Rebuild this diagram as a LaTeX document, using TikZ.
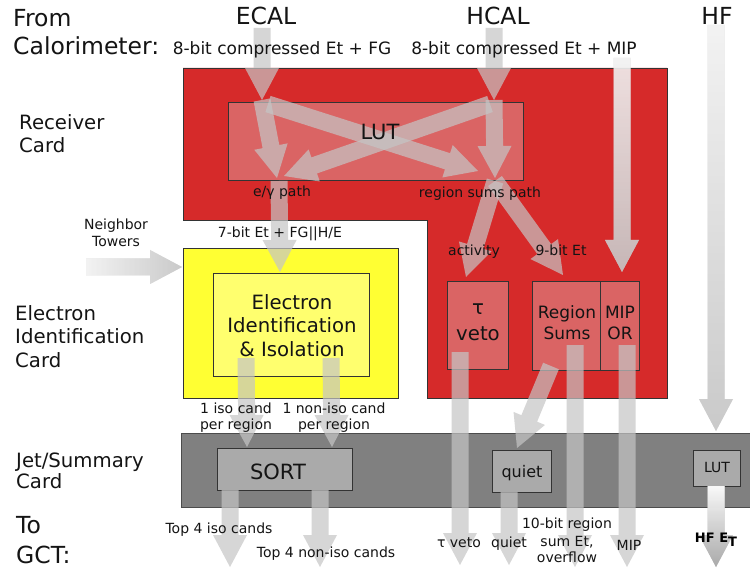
\documentclass[tikz,border=0pt]{standalone}
\usepackage{fontspec}
\setmainfont{DejaVu Sans}
\usetikzlibrary{calc}
\definecolor{cardred}{RGB}{214,42,42}
\definecolor{lutred}{RGB}{218,100,100}
\definecolor{eidyellow}{RGB}{255,255,51}
\definecolor{eidinner}{RGB}{255,255,110}
\definecolor{barGray}{RGB}{128,128,128}
\definecolor{boxGray}{RGB}{170,170,170}
\definecolor{arrowgray}{RGB}{197,197,197}
\definecolor{inkc}{RGB}{20,20,20}
\def\faW{8.5pt}\def\faH{17pt}\def\faL{32pt}
\newcommand\FatArrow[3][]{%
  \coordinate (fa-h) at ($(#3)!\faL!(#2)$);
  \path[fat,#1] ($(#2)!\faW!-90:(#3)$) -- ($(fa-h)!\faW!-90:(#3)$) -- ($(fa-h)!\faH!-90:(#3)$) -- (#3) -- ($(fa-h)!\faH!90:(#3)$) -- ($(fa-h)!\faW!90:(#3)$) -- ($(#2)!\faW!90:(#3)$) -- cycle;}
\newcommand\myBig{\fontsize{23.5}{28}\selectfont}
\newcommand\myLab{\fontsize{19.7}{23}\selectfont}
\newcommand\myMid{\fontsize{17}{20}\selectfont}
\newcommand\mySmall{\fontsize{14}{17}\selectfont}
\begin{document}
\begin{tikzpicture}[x=1pt,y=-1pt,
  fat/.style={fill=arrowgray, fill opacity=0.7},
  fadetop/.style={top color=white, bottom color=arrowgray, fill opacity=0.7},
  fadeleft/.style={left color=white, right color=arrowgray, fill opacity=0.7},
  card/.style={draw=black!80, line width=0.8pt},
  txt/.style={anchor=base, inner sep=0pt, text=inkc},
  txtw/.style={anchor=base west, inner sep=0pt, text=inkc}]
\useasboundingbox (0,0) rectangle (750,572);
\fill[white] (0,0) rectangle (750,572);

% cards and boxes
\draw[card, fill=cardred] (183,68) -- (667,68) -- (667,398) -- (427,398) -- (427,220) -- (183,220) -- cycle;
\draw[card, fill=lutred] (228,102) rectangle (523,180);
\draw[card, fill=eidyellow] (183,248) rectangle (398,398);
\draw[card, fill=eidinner] (213,273) rectangle (369,376);
\draw[card, fill=lutred] (447,281) rectangle (508,369);
\draw[card, fill=lutred] (532,281) rectangle (639,370);
\draw[card] (600,281) -- (600,370);
\draw[draw=black!70, line width=0.8pt, fill=barGray] (181,433) rectangle (753,507);
\draw[card, fill=boxGray] (217,448) rectangle (352,490);
\draw[card, fill=boxGray] (492,450) rectangle (551,492);
\draw[card, fill=boxGray] (693,450) rectangle (740,486);

% connector end points
\coordinate (ecalTop) at (262,28);
\coordinate (ecalIn) at (262,100);
\coordinate (egOut) at (277,178);
\coordinate (hcalTop) at (494,28);
\coordinate (hcalIn) at (494,100);
\coordinate (rsOut) at (495,178);
\coordinate (crossA) at (268,104);
\coordinate (crossAt) at (478,171);
\coordinate (crossB) at (490,104);
\coordinate (crossBt) at (284,176);
\coordinate (egDown) at (279,181);
\coordinate (eidTop) at (280,272);
\coordinate (rsDown) at (495,181);
\coordinate (tauTop) at (466,277);
\coordinate (sumsTop) at (563,275);
\coordinate (mipTop) at (622,58);
\coordinate (mipIn) at (622,272);
\coordinate (hfTop) at (716,25);
\coordinate (hfIn) at (716,431);
\coordinate (nbStart) at (86,267);
\coordinate (nbEnd) at (182,267);
\coordinate (isoA) at (246,358);
\coordinate (isoB) at (247,447);
\coordinate (nisoA) at (331,358);
\coordinate (nisoB) at (332,447);
\coordinate (sortIso) at (230,490);
\coordinate (gctIso) at (230,567);
\coordinate (sortNiso) at (320,490);
\coordinate (gctNiso) at (320,567);
\coordinate (tauA) at (460,352);
\coordinate (tauB) at (460,565);
\coordinate (sumsA) at (551,366);
\coordinate (quietIn) at (517,448);
\coordinate (quietA) at (509,492);
\coordinate (quietB) at (509,565);
\coordinate (rsA) at (575,345);
\coordinate (rsB) at (575,567);
\coordinate (mipA) at (627,345);
\coordinate (mipB) at (627,567);
\coordinate (hfLutA) at (716,486);
\coordinate (hfLutB) at (716,567);

% arrows
\FatArrow{ecalTop}{ecalIn}
\FatArrow{ecalIn}{egOut}
\FatArrow{hcalTop}{hcalIn}
\FatArrow{hcalIn}{rsOut}
\FatArrow{crossA}{crossAt}
\FatArrow{crossB}{crossBt}
\FatArrow{egDown}{eidTop}
\FatArrow{rsDown}{tauTop}
\FatArrow{rsDown}{sumsTop}
\FatArrow[top color=white, middle color=arrowgray, bottom color=arrowgray, fill opacity=0.7]{mipTop}{mipIn}
\FatArrow[fadetop]{hfTop}{hfIn}
\FatArrow[fadeleft]{nbStart}{nbEnd}
\FatArrow{isoA}{isoB}
\FatArrow{nisoA}{nisoB}
\FatArrow{sortIso}{gctIso}
\FatArrow{sortNiso}{gctNiso}
\FatArrow{tauA}{tauB}
\FatArrow{sumsA}{quietIn}
\FatArrow{quietA}{quietB}
\FatArrow{rsA}{rsB}
\FatArrow{mipA}{mipB}
\FatArrow[top color=white, bottom color=gray!70, fill opacity=0.9]{hfLutA}{hfLutB}

% texts
\node[txtw, font=\myBig] (tFrom) at (13,27) {From};
\node[txtw, font=\myBig] (tCalo) at (13,55) {Calorimeter:};
\node[txt, font=\myBig] (tEcal) at (266,25) {ECAL};
\node[txt, font=\myBig] (tHcal) at (498,25) {HCAL};
\node[txt, font=\myBig] (tHf) at (717,25) {HF};
\node[txt, font=\myMid] (tEbits) at (282,55) {8-bit compressed Et + FG};
\node[txt, font=\myMid] (tHbits) at (524,55) {8-bit compressed Et + MIP};
\node[txtw, font=\myLab] (tRec1) at (19,130) {Receiver};
\node[txtw, font=\myLab] (tRec2) at (19,153) {Card};
\node[txt, font=\fontsize{21}{24}\selectfont] (tLut) at (380,140) {LUT};
\node[txt, font=\mySmall] (tEg) at (282,197) {e/γ path};
\node[txt, font=\mySmall] (tRs) at (480,198) {region sums path};
\node[txt, font=\mySmall] (tNb1) at (116,230) {Neighbor};
\node[txt, font=\mySmall] (tNb2) at (116,247) {Towers};
\node[txt, font=\mySmall] (tSeven) at (280,238) {7-bit Et + FG||H/E};
\node[txt, font=\mySmall] (tAct) at (474,256) {activity};
\node[txt, font=\mySmall] (tNine) at (561,256) {9-bit Et};
\node[txtw, font=\myLab] (tEid1) at (15,320) {Electron};
\node[txtw, font=\myLab] (tEid2) at (15,343) {Identification};
\node[txtw, font=\myLab] (tEid3) at (15,367) {Card};
\node[txt, font=\myLab] (tIn1) at (292,309) {Electron};
\node[txt, font=\myLab] (tIn2) at (292,332) {Identification};
\node[txt, font=\myLab] (tIn3) at (292,356) {\& Isolation};
\node[txt, font=\myLab] (tTau1) at (478,315) {τ};
\node[txt, font=\myLab] (tTau2) at (478,340) {veto};
\node[txt, font=\myMid] (tReg1) at (567,319) {Region};
\node[txt, font=\myMid] (tReg2) at (567,339) {Sums};
\node[txt, font=\myMid] (tMip1) at (620,319) {MIP};
\node[txt, font=\myMid] (tMip2) at (620,339) {OR};
\node[txt, font=\mySmall] (tIso1) at (236,413) {1 iso cand};
\node[txt, font=\mySmall] (tIso2) at (236,429) {per region};
\node[txt, font=\mySmall] (tNiso1) at (334,413) {1 non-iso cand};
\node[txt, font=\mySmall] (tNiso2) at (334,429) {per region};
\node[txtw, font=\myLab] (tJet1) at (16,467) {Jet/Summary};
\node[txtw, font=\myLab] (tJet2) at (16,488) {Card};
\node[txt, font=\fontsize{21}{24}\selectfont] (tSort) at (278,479) {SORT};
\node[txt, font=\fontsize{16}{19}\selectfont] (tQuiet) at (522,477) {quiet};
\node[txt, font=\mySmall] (tLutS) at (717,472) {LUT};
\node[txtw, font=\myBig] (tTo) at (16,533) {To};
\node[txtw, font=\myBig] (tGct) at (16,563) {GCT:};
\node[txt, font=\mySmall] (tTop4) at (219,533) {Top 4 iso cands};
\node[txt, font=\mySmall] (tTop4n) at (326,557) {Top 4 non-iso cands};
\node[txt, font=\mySmall] (tTauOut) at (459,547) {τ veto};
\node[txt, font=\mySmall] (tQuietOut) at (509,547) {quiet};
\node[txt, font=\mySmall] (tTen1) at (567,528) {10-bit region};
\node[txt, font=\mySmall] (tTen2) at (567,546) {sum Et,};
\node[txt, font=\mySmall] (tTen3) at (567,562) {overflow};
\node[txt, font=\mySmall] (tMipOut) at (629,550) {MIP};
\node[txt, font=\fontsize{13}{16}\selectfont\bfseries, text=black] (tHfEt) at (716,542) {HF E\raisebox{-4pt}{T}};
\end{tikzpicture}
\end{document}
